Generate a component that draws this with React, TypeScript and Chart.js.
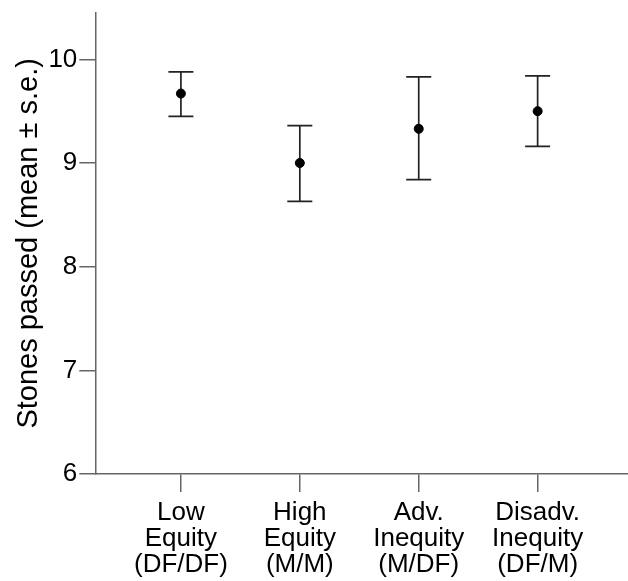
import React, { useEffect, useRef } from "react";
import { Chart, registerables } from "chart.js";

Chart.register(...registerables);

const categories: string[][] = [
  ["Low", "Equity", "(DF/DF)"],
  ["High", "Equity", "(M/M)"],
  ["Adv.", "Inequity", "(M/DF)"],
  ["Disadv.", "Inequity", "(DF/M)"],
];
const means = [9.67, 9.0, 9.33, 9.5];
const upper = [9.88, 9.36, 9.83, 9.84];
const lower = [9.45, 8.63, 8.84, 9.16];
const yTicks = [6, 7, 8, 9, 10];
const yTitle = "Stones passed (mean ± s.e.)";

const FONT = "'Liberation Sans', Arial, sans-serif";

const errorBarPlugin = {
  id: "errorBars",
  beforeDatasetsDraw(chart: any) {
    const ctx = chart.ctx;
    const xs = chart.scales.x;
    const ys = chart.scales.y;
    ctx.save();
    ctx.strokeStyle = "#222";
    ctx.lineWidth = 1.7;
    const cap = 12.5;
    means.forEach((_, i) => {
      const x = xs.getPixelForValue(i + 1);
      const yU = ys.getPixelForValue(upper[i]);
      const yL = ys.getPixelForValue(lower[i]);
      ctx.beginPath();
      ctx.moveTo(x, yU);
      ctx.lineTo(x, yL);
      ctx.moveTo(x - cap, yU);
      ctx.lineTo(x + cap, yU);
      ctx.moveTo(x - cap, yL);
      ctx.lineTo(x + cap, yL);
      ctx.stroke();
    });
    ctx.restore();
  },
};

export default function App() {
  const ref = useRef<HTMLCanvasElement>(null);
  useEffect(() => {
    if (!ref.current) return;
    const chart = new Chart(ref.current, {
      type: "scatter",
      data: {
        datasets: [
          {
            data: means.map((m, i) => ({ x: i + 1, y: m })),
            backgroundColor: "#000",
            borderColor: "#000",
            pointRadius: 4.5,
            pointHoverRadius: 4.5,
          },
        ],
      },
      plugins: [errorBarPlugin],
      options: {
        animation: false,
        responsive: true,
        maintainAspectRatio: false,
        layout: { autoPadding: false, padding: { top: 12.7, left: 0, right: 0, bottom: 0 } },
        plugins: {
          legend: { display: false },
          tooltip: { enabled: false },
        },
        scales: {
          x: {
            type: "linear",
            min: 0.28,
            max: 4.76,
            afterBuildTicks: (scale: any) => {
              scale.ticks = categories.map((_, i) => ({ value: i + 1 }));
            },
            afterFit: (scale: any) => {
              scale.height = 107;
              scale.paddingLeft = 0;
              scale.paddingRight = 0;
            },
            border: { display: true, color: "#666", width: 1.5 },
            grid: {
              drawOnChartArea: false,
              drawTicks: true,
              tickLength: 18,
              color: "#666",
              lineWidth: 1.5,
            },
            ticks: {
              autoSkip: false,
              maxRotation: 0,
              padding: 8,
              color: "#000",
              font: { family: FONT, size: 26, lineHeight: 1.0 },
              callback: (v: any) => categories[Math.round(Number(v)) - 1] ?? "",
            },
          },
          y: {
            min: 6,
            max: 10.45,
            afterBuildTicks: (scale: any) => {
              scale.ticks = yTicks.map((v) => ({ value: v }));
            },
            afterFit: (scale: any) => {
              scale.width = 95.3;
              scale.paddingTop = 0;
              scale.paddingBottom = 0;
            },
            border: { display: true, color: "#666", width: 1.5 },
            grid: {
              drawOnChartArea: false,
              drawTicks: true,
              tickLength: 16,
              color: "#666",
              lineWidth: 1.5,
            },
            ticks: {
              padding: 2,
              color: "#000",
              font: { family: FONT, size: 26 },
            },
            title: {
              display: true,
              text: yTitle,
              color: "#000",
              padding: { top: 12, bottom: 0 },
              font: { family: FONT, size: 29 },
            },
          },
        },
      },
    });
    return () => chart.destroy();
  }, []);
  return (
    <div style={{ position: "fixed", left: 0, top: 0, width: 628, height: 581, background: "#fff" }}>
      <canvas ref={ref} />
    </div>
  );
}
